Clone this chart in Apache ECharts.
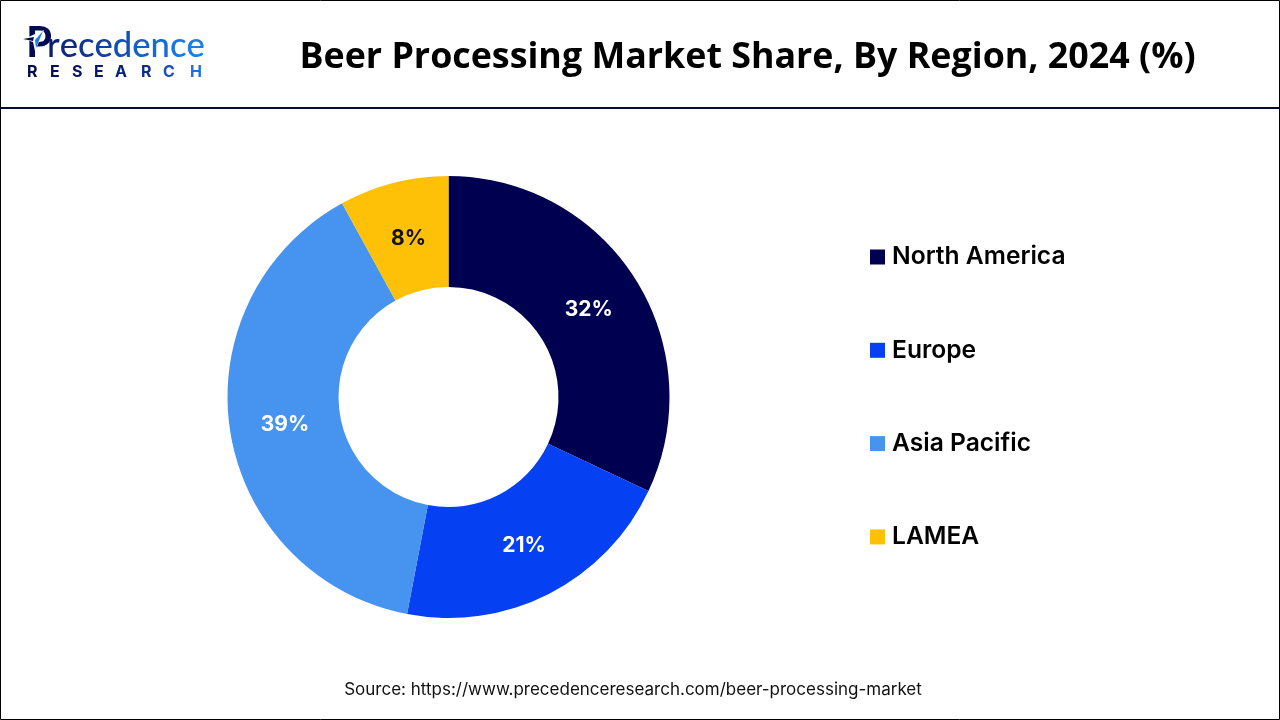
<!DOCTYPE html>
<html>
<head>
<meta charset="utf-8">
<style>
html, body { margin: 0; padding: 0; background: #fff; }
#main { width: 1280px; height: 720px; }
</style>
<script src="https://cdn.jsdelivr.net/npm/echarts@6/dist/echarts.min.js"></script>
</head>
<body>
<div id="main"></div>
<script>
var shares = [
	{ name: 'North America', value: 32, color: '#000050', label: '#ffffff', offset: [-2, 3] },
	{ name: 'Europe', value: 21, color: '#0540f2', label: '#ffffff', offset: [-1, -1] },
	{ name: 'Asia Pacific', value: 39, color: '#4694f0', label: '#ffffff', offset: [3, 1] },
	{ name: 'LAMEA', value: 8, color: '#ffc107', label: '#111111', offset: [2, 5] }
];

// logo letters go from dark navy to light blue
var wordColors = ['#0b1f6e', '#0d2a80', '#0f3592', '#1040a4', '#1250b8', '#1460c8', '#166cd6', '#1876e0', '#1c7ce8'];
var wordRich = {};
var wordText = '';
'recedence'.split('').forEach(function (ch, i) {
	wordRich['l' + i] = { font: '500 34.6px "Lato"', fill: wordColors[i], color: wordColors[i] };
	wordText += '{l' + i + '|' + ch + '}';
});

var researchLetters = [
	['R', 27, '#000a50'], ['E', 50, '#000f5a'], ['S', 72, '#021464'], ['E', 94, '#041a6e'],
	['A', 115, '#06207a'], ['R', 141, '#0a2c8c'], ['C', 163, '#1450b8'], ['H', 190, '#1c70e0']
];

var myChart = echarts.init(document.getElementById('main'));
myChart.setOption({
	animation: false,
	backgroundColor: '#ffffff',
	title: {
		text: 'Beer Processing Market Share, By Region, 2024 (%)',
		left: 742.5,
		top: 35,
		textAlign: 'center',
		textStyle: { fontFamily: 'Open Sans', fontSize: 35.8, fontWeight: 'bold', color: '#000000' }
	},
	legend: {
		orient: 'vertical',
		left: 870,
		top: 242,
		padding: 0,
		itemWidth: 15,
		itemHeight: 15,
		itemGap: 63.3,
		icon: 'rect',
		selectedMode: false,
		textStyle: { fontFamily: 'Inter', fontSize: 24.6, fontWeight: 600, color: '#000000', padding: [0, 0, 0, 2], height: 30, lineHeight: 30 },
		data: shares.map(function (d) { return d.name; })
	},
	series: [
		{
			type: 'pie',
			center: [448.5, 397],
			radius: [110, 221],
			startAngle: 90,
			clockwise: true,
			silent: true,
			label: {
				position: 'inside',
				formatter: '{c}%',
				fontFamily: 'Inter',
				fontSize: 21,
				fontWeight: 700
			},
			labelLine: { show: false },
			data: shares.map(function (d) {
				return {
					name: d.name,
					value: d.value,
					itemStyle: { color: d.color },
					label: { color: d.label, offset: d.offset }
				};
			})
		}
	],
	graphic: [
		// frame and header rule
		{ type: 'rect', shape: { x: 0.5, y: 0.5, width: 1279, height: 719 }, style: { fill: 'none', stroke: '#000000', lineWidth: 1 } },
		{ type: 'rect', shape: { x: 0, y: 107, width: 1280, height: 2 }, style: { fill: '#000a32' } },
		// logo
		{ type: 'text', x: 26, y: 22, style: { text: 'P', font: 'bold 42px "Lato"', fill: '#000a50' } },
		{ type: 'text', x: 47, y: 28, style: { text: wordText, rich: wordRich, font: '500 34.6px "Lato"' } },
		{ type: 'polygon', shape: { points: [[24, 39], [44, 30], [35, 51], [33, 42]] }, style: { fill: '#ffffff' } },
		{ type: 'polygon', shape: { points: [[43, 31], [36, 48], [35, 40]] }, style: { fill: '#1c7ce8' } },
		{ type: 'polygon', shape: { points: [[23, 39], [34, 37], [33, 41]] }, style: { fill: '#000a50' } }
	].concat(researchLetters.map(function (l) {
		return { type: 'text', x: l[1], y: 64, style: { text: l[0], font: 'bold 16px "Inter"', fill: l[2] } };
	})).concat([
		// source
		{ type: 'text', x: 633, y: 681, style: { text: 'Source: https://www.precedenceresearch.com/beer-processing-market', font: '17px "Inter"', fill: '#111111', align: 'center' } }
	])
});
</script>
</body>
</html>
